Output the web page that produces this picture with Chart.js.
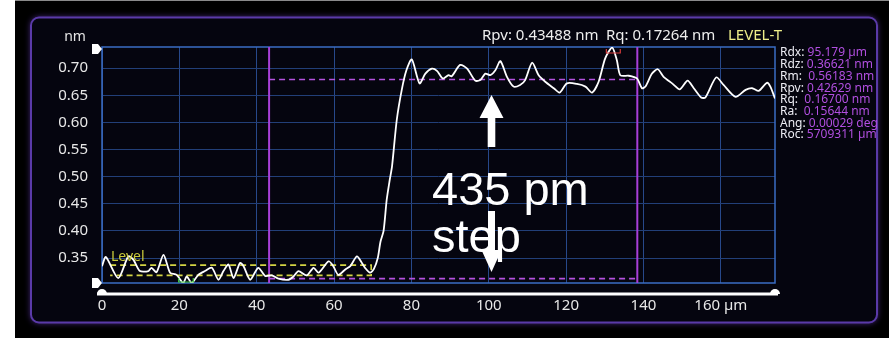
<!DOCTYPE html>
<html>
<head>
<meta charset="utf-8">
<script src="https://cdn.jsdelivr.net/npm/chart.js@4.4.1/dist/chart.umd.min.js"></script>
<style>
  html, body { margin: 0; padding: 0; background: #000; overflow: hidden; }
  canvas { display: block; }
</style>
</head>
<body>
<canvas id="profileChart" width="889" height="338"></canvas>
<script>
// profile trace (position in µm, height in nm)
const profileX = [0, 1.0, 4.2, 6.8, 8.1, 9.8, 12, 12.8, 14.1, 15.9, 17.6, 19.3, 21, 21.9, 23.2, 24.9, 26.6, 28.4,
  30.1, 31.4, 32.7, 34, 35.7, 36.6, 38.3, 40.4, 42.2, 43.9, 45.6, 48.2, 49.5, 50.8, 52.9, 54.7, 56, 58.6, 59.8,
  61.1, 62.9, 64.2, 65.9, 67.2, 68, 69.3, 70.3, 71.3, 72, 72.8, 73.6, 74.3, 75, 76.2, 77.5, 78.7, 80.1, 82.1,
  83.6, 85.3, 86.6, 88.1, 89.6, 90.4, 92.6, 94.4, 96.5, 97.8, 99.1, 100.4, 101.7, 103, 104.7, 106.4, 108.1,
  109.4, 111.2, 112.9, 114.6, 116.8, 118.3, 120.2, 122.8, 125, 126.7, 128.4, 130.1, 131.9, 133.1, 134, 136.2,
  138.3, 139.6, 140.5, 142.2, 143.7, 145.2, 147.4, 149.4, 151.4, 153, 154.9, 156, 158.8, 160.7, 163.8, 166.4,
  168.1, 169.8, 171.9, 172.8, 174];
const profileY = [0.335, 0.352, 0.313, 0.353, 0.347, 0.326, 0.326, 0.332, 0.324, 0.356, 0.323, 0.319, 0.304, 0.316, 0.304, 0.319, 0.326, 0.332,
  0.310, 0.326, 0.338, 0.313, 0.341, 0.335, 0.310, 0.332, 0.317, 0.318, 0.312, 0.310, 0.316, 0.326, 0.318, 0.332, 0.323, 0.344, 0.335,
  0.319, 0.329, 0.335, 0.353, 0.341, 0.332, 0.323, 0.330, 0.350, 0.380, 0.400, 0.457, 0.490, 0.520, 0.604, 0.660, 0.696, 0.716, 0.672,
  0.690, 0.699, 0.695, 0.681, 0.687, 0.685, 0.706, 0.699, 0.677, 0.678, 0.690, 0.687, 0.696, 0.713, 0.684, 0.666, 0.669,
  0.678, 0.710, 0.687, 0.675, 0.663, 0.655, 0.672, 0.671, 0.666, 0.655, 0.675, 0.718, 0.738, 0.715, 0.687, 0.686,
  0.681, 0.663, 0.666, 0.690, 0.698, 0.684, 0.672, 0.661, 0.677, 0.663, 0.646, 0.646, 0.683, 0.669, 0.647, 0.660,
  0.663, 0.658, 0.673, 0.666, 0.644];

const xTicks = [0, 20, 40, 60, 80, 100, 120, 140, 160];
const yTicks = [0.35, 0.40, 0.45, 0.50, 0.55, 0.60, 0.65, 0.70];
const xRange = [0, 174];
const yRange = [0.304, 0.739];

// cursors and levels
const cursorX = [43.2, 138.4];
const stepLevels = [0.312, 0.679];
const levelBand = [0.318, 0.337];
const levelSpan = [2.1, 69.6];
const valleyMark = [19.8, 23.6];
const peakMark = [130.4, 134.0];

const headerTexts = ['Rpv: 0.43488 nm', 'Rq: 0.17264 nm', 'LEVEL-T'];
const statLabels = ['Rdx: ', 'Rdz: ', 'Rm:  ', 'Rpv: ', 'Rq:  ', 'Ra:  ', 'Ang: ', 'Roc: '];
const statValues = ['95.179 µm', '0.36621 nm', '0.56183 nm', '0.42629 nm', '0.16700 nm', '0.15644 nm', '0.00029 deg', '5709311 µm'];
const stepText = ['435 pm', 'step'];

const FONT = "'Noto Sans', 'DejaVu Sans', sans-serif";

const profile = profileX.map((x, i) => ({ x: x, y: profileY[i] }));
const dashed = { borderDash: [6, 4], borderWidth: 1.6, pointRadius: 0, tension: 0 };

const datasets = [
  { data: profile, borderColor: '#ffffff', borderWidth: 1.8, pointRadius: 0, tension: 0.25 },
  Object.assign({
    data: [
      { x: levelSpan[0], y: levelBand[1] }, { x: levelSpan[1], y: levelBand[1] },
      { x: levelSpan[1], y: levelBand[0] }, { x: levelSpan[0], y: levelBand[0] }
    ],
    borderColor: '#d4d444'
  }, dashed),
  Object.assign({ data: [{ x: cursorX[0], y: stepLevels[1] }, { x: cursorX[1], y: stepLevels[1] }], borderColor: '#b452de' }, dashed),
  Object.assign({ data: [{ x: cursorX[0], y: stepLevels[0] }, { x: cursorX[1], y: stepLevels[0] }], borderColor: '#b452de' }, dashed),
  { data: [{ x: cursorX[0], y: yRange[0] }, { x: cursorX[0], y: yRange[1] }], borderColor: '#a83fd8', borderWidth: 2, pointRadius: 0 },
  { data: [{ x: cursorX[1], y: yRange[0] }, { x: cursorX[1], y: yRange[1] }], borderColor: '#a83fd8', borderWidth: 2, pointRadius: 0 }
];

// panel behind the chart
const panelPlugin = {
  id: 'panel',
  beforeDraw(chart) {
    const ctx = chart.ctx;
    ctx.save();
    ctx.fillStyle = '#000';
    ctx.fillRect(0, 0, chart.width, chart.height);
    ctx.fillStyle = '#fff';
    ctx.fillRect(0, 0, 15, chart.height);
    ctx.fillStyle = '#8a8a8a';
    ctx.fillRect(15, 0, chart.width - 15, 1);
    ctx.shadowColor = 'rgba(120,70,220,0.7)';
    ctx.shadowBlur = 6;
    ctx.beginPath();
    ctx.roundRect(31, 17.5, 846, 305, 8);
    ctx.fillStyle = '#05050f';
    ctx.fill();
    ctx.shadowBlur = 0;
    ctx.lineWidth = 2;
    ctx.strokeStyle = '#5a3aa8';
    ctx.stroke();
    ctx.restore();
  },
  beforeDatasetsDraw(chart) {
    const { ctx, chartArea: a } = chart;
    ctx.save();
    ctx.strokeStyle = '#3a6cc4';
    ctx.lineWidth = 1.5;
    ctx.strokeRect(a.left, a.top, a.right - a.left, a.bottom - a.top);
    ctx.restore();
  }
};

// annotations on top
const overlayPlugin = {
  id: 'overlay',
  afterDraw(chart) {
    const { ctx, chartArea: a, scales } = chart;
    const xs = scales.x;
    ctx.save();

    // axis line below the plot
    const axisY = a.bottom + 11;
    ctx.strokeStyle = '#ffffff';
    ctx.lineWidth = 3;
    ctx.beginPath();
    ctx.moveTo(a.left - 5, axisY);
    ctx.lineTo(a.right + 3, axisY);
    ctx.stroke();
    ctx.fillStyle = '#ffffff';
    [a.left, a.right].forEach(px => {
      ctx.beginPath();
      ctx.arc(px, axisY, 5, Math.PI, 0);
      ctx.fill();
    });
    // little flags at the left edge
    [a.top + 2, a.bottom].forEach(py => {
      ctx.beginPath();
      ctx.moveTo(a.left - 10, py - 5);
      ctx.lineTo(a.left - 4, py - 5);
      ctx.lineTo(a.left, py);
      ctx.lineTo(a.left - 4, py + 5);
      ctx.lineTo(a.left - 10, py + 5);
      ctx.closePath();
      ctx.fill();
    });

    // unit label
    ctx.font = '14px ' + FONT;
    ctx.fillStyle = '#e6e6e6';
    ctx.textAlign = 'center';
    ctx.textBaseline = 'middle';
    ctx.fillText('nm', 75, 37);

    // header
    ctx.font = '15px ' + FONT;
    ctx.textAlign = 'left';
    ctx.fillStyle = '#eeeeee';
    ctx.fillText(headerTexts[0], 482, 36);
    ctx.fillText(headerTexts[1], 606, 36);
    ctx.fillStyle = '#eeee8a';
    ctx.fillText(headerTexts[2], 728, 36);

    // stats panel
    ctx.font = '12px ' + FONT;
    statLabels.forEach((lab, i) => {
      const y = 53 + i * 11.7;
      ctx.fillStyle = '#ececf4';
      ctx.fillText(lab, 780, y);
      const w = ctx.measureText(lab).width;
      ctx.fillStyle = '#b14fe0';
      ctx.fillText(statValues[i], 780 + w, y);
    });

    // level label
    ctx.font = '14px ' + FONT;
    ctx.fillStyle = '#c8c83a';
    ctx.fillText('Level', 111, 257);

    // valley / peak brackets
    ctx.lineWidth = 1.2;
    ctx.strokeStyle = '#3ec43e';
    let x0 = xs.getPixelForValue(valleyMark[0]), x1 = xs.getPixelForValue(valleyMark[1]);
    ctx.beginPath();
    ctx.moveTo(x0, a.bottom - 5); ctx.lineTo(x0, a.bottom - 1); ctx.lineTo(x1, a.bottom - 1); ctx.lineTo(x1, a.bottom - 5);
    ctx.stroke();
    ctx.strokeStyle = '#d43a3a';
    x0 = xs.getPixelForValue(peakMark[0]); x1 = xs.getPixelForValue(peakMark[1]);
    ctx.beginPath();
    ctx.moveTo(x0, a.top + 2); ctx.lineTo(x0, a.top + 6); ctx.lineTo(x1, a.top + 6); ctx.lineTo(x1, a.top + 2);
    ctx.stroke();

    // step callout
    ctx.fillStyle = '#ffffff';
    ctx.font = "47px 'Liberation Sans', Arial, sans-serif";
    ctx.textBaseline = 'alphabetic';
    ctx.fillText(stepText[0], 432, 205);
    ctx.fillText(stepText[1], 432, 252);

    // arrows
    const ax = 491.5;
    ctx.beginPath();
    ctx.moveTo(ax, 95); ctx.lineTo(ax + 12, 118); ctx.lineTo(ax + 3.8, 118); ctx.lineTo(ax + 3.8, 147);
    ctx.lineTo(ax - 3.8, 147); ctx.lineTo(ax - 3.8, 118); ctx.lineTo(ax - 12, 118); ctx.closePath();
    ctx.fill();
    ctx.beginPath();
    ctx.moveTo(ax, 272); ctx.lineTo(ax + 10, 250); ctx.lineTo(ax + 3.5, 250); ctx.lineTo(ax + 3.5, 211);
    ctx.lineTo(ax - 3.5, 211); ctx.lineTo(ax - 3.5, 250); ctx.lineTo(ax - 10, 250); ctx.closePath();
    ctx.fill();

    ctx.restore();
  }
};

new Chart(document.getElementById('profileChart'), {
  type: 'line',
  data: { datasets: datasets },
  options: {
    responsive: false,
    devicePixelRatio: 1,
    animation: false,
    layout: { padding: { top: 47, right: 114, left: 0, bottom: 0 } },
    plugins: { legend: { display: false }, tooltip: { enabled: false } },
    scales: {
      x: {
        type: 'linear',
        min: xRange[0],
        max: xRange[1],
        afterBuildTicks: s => { s.ticks = xTicks.map(v => ({ value: v })); },
        afterFit: s => { s.height = 55; },
        grid: { color: '#27488a', lineWidth: 1, drawTicks: false },
        border: { display: false },
        ticks: {
          color: '#e8e8e8',
          font: { family: FONT, size: 15 },
          padding: 14,
          maxRotation: 0,
          autoSkip: false,
          callback: v => (v === 160 ? '160 µm' : String(v))
        }
      },
      y: {
        type: 'linear',
        min: yRange[0],
        max: yRange[1],
        afterBuildTicks: s => { s.ticks = yTicks.map(v => ({ value: v })); },
        afterFit: s => { s.width = 102; },
        grid: { color: '#223f78', lineWidth: 1, drawTicks: false },
        border: { display: false },
        ticks: {
          color: '#e8e8e8',
          font: { family: FONT, size: 15 },
          padding: 14,
          callback: v => v.toFixed(2)
        }
      }
    }
  },
  plugins: [panelPlugin, overlayPlugin]
});
</script>
</body>
</html>
